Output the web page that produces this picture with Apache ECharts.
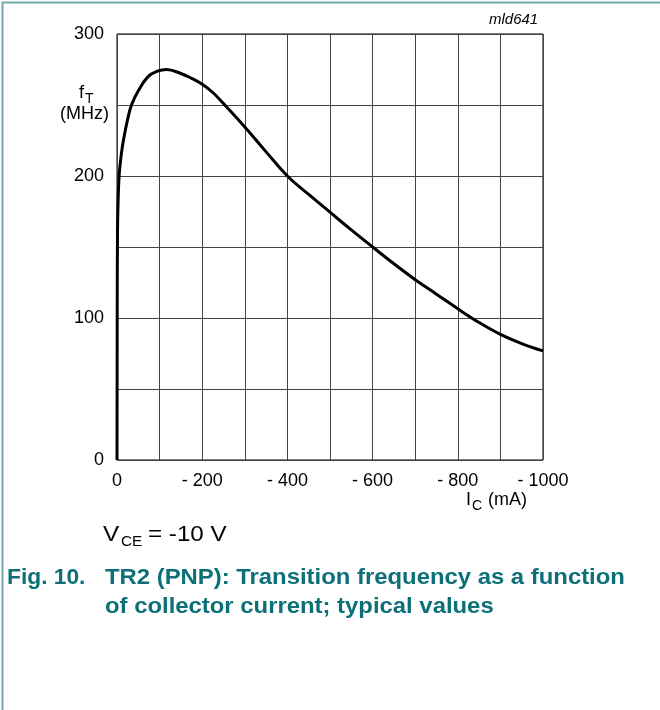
<!DOCTYPE html>
<html>
<head>
<meta charset="utf-8">
<script src="https://cdn.jsdelivr.net/npm/echarts@6/dist/echarts.min.js"></script>
<style>
  html, body { margin: 0; padding: 0; background: #fff; }
  #container { width: 660px; height: 710px; }
</style>
</head>
<body>
<div id="container"></div>
<script>
var dom = document.getElementById("container");
var myChart = echarts.init(dom);
var option;

// collector current (mA) and transition frequency (MHz)
var icMA = [0, -0.3, -0.6, -1, -2, -5, -10, -15, -25, -34, -50, -73, -95, -116, -150, -175, -200, -225,
            -250, -300, -350, -400, -450, -500, -550, -600, -650, -700, -750, -800, -850, -900, -950, -1000];
var ftMHz = [0, 60, 120, 150, 175, 200, 215, 225, 240, 250, 260, 270, 273.8, 275, 272.2, 268.8, 264.6, 258.8,
             251, 234.5, 217, 200, 187, 174.5, 162, 150, 138.2, 127, 116.8, 106.5, 96.8, 88.5, 82, 76.8];

var xTicks = [0, -200, -400, -600, -800, -1000];
var yTicks = [0, 100, 200, 300];

var curve = icMA.map(function (x, i) { return [x, ftMHz[i]]; });

var font = 'Liberation Sans, Arial, sans-serif';
var teal = '#0d7078';

function txt(x, y, s, f, color, sx) {
    return { type: 'text', x: x, y: y, scaleX: sx || 1, silent: true,
             style: { text: s, font: f, fill: color || '#000' } };
}

option = {
    animation: false,
    grid: {
        left: 117,
        top: 34,
        width: 426,
        height: 426,
        show: true,
        borderColor: '#000',
        borderWidth: 1
    },
    xAxis: {
        type: 'value',
        inverse: true,
        min: -1000,
        max: 0,
        interval: 100,
        axisLine: { show: false },
        axisTick: { show: false },
        splitLine: { show: true, lineStyle: { color: '#444', width: 1 } },
        axisLabel: {
            margin: 12,
            color: '#000',
            fontSize: 18,
            fontFamily: font,
            formatter: function (v) {
                if (xTicks.indexOf(v) < 0) return '';
                return v === 0 ? '0' : '- ' + Math.abs(v);
            }
        }
    },
    yAxis: {
        type: 'value',
        min: 0,
        max: 300,
        interval: 50,
        axisLine: { show: false },
        axisTick: { show: false },
        splitLine: { show: true, lineStyle: { color: '#444', width: 1 } },
        axisLabel: {
            margin: 13,
            color: '#000',
            fontSize: 18,
            fontFamily: font,
            formatter: function (v) {
                return yTicks.indexOf(v) < 0 ? '' : String(v);
            }
        }
    },
    series: [
        {
            type: 'line',
            data: curve,
            showSymbol: false,
            smooth: 0.4,
            lineStyle: { color: '#000', width: 3 }
        }
    ],
    graphic: [
        { type: 'rect', left: 0, top: 0, silent: true,
          shape: { width: 659, height: 709 },
          style: { fill: 'none', stroke: '#6fa9ae', lineWidth: 2 } },
        txt(489, 12, 'mld641', 'italic 15px ' + font),
        txt(79, 84, 'f', '18px ' + font),
        txt(85, 92, 'T', '14px ' + font),
        txt(60, 105, '(MHz)', '18px ' + font),
        txt(466, 491, 'I', '18px ' + font),
        txt(472, 499, 'C', '14px ' + font),
        txt(488, 491, '(mA)', '18px ' + font),
        txt(103, 524, 'V', '22px ' + font, '#000', 1.1),
        txt(121, 535, 'CE', '14px ' + font, '#000', 1.1),
        txt(148, 524, '= -10 V', '22px ' + font, '#000', 1.1),
        txt(7, 567, 'Fig. 10.', 'bold 22px ' + font, teal, 1.035),
        txt(105, 567, 'TR2 (PNP): Transition frequency as a function', 'bold 22px ' + font, teal, 1.085),
        txt(105, 596, 'of collector current; typical values', 'bold 22px ' + font, teal, 1.085)
    ]
};

if (option && typeof option === 'object') {
    myChart.setOption(option);
}
</script>
</body>
</html>
